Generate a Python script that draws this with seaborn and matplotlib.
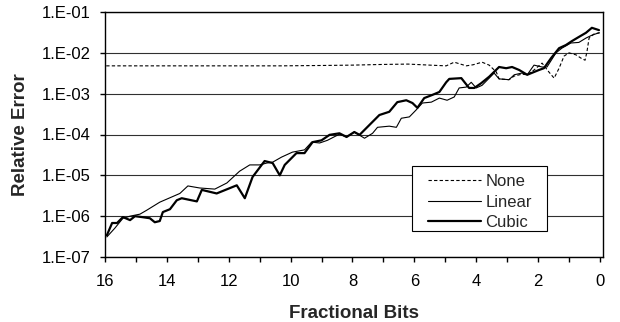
import numpy as np
import pandas as pd
import matplotlib
matplotlib.use("Agg")
import matplotlib.pyplot as plt
import seaborn as sns
from matplotlib.patches import Rectangle
from matplotlib.ticker import FixedLocator, MultipleLocator, FuncFormatter, NullLocator

# ---- data ----
none_bits = [16.0, 12.0, 10.3, 9.0, 8.0, 7.0, 6.2, 5.5, 4.97, 4.71, 4.32, 4.1, 3.81, 3.58,
             3.35, 3.26, 2.94, 2.77, 2.52, 2.35, 2.13, 1.87, 1.65, 1.48, 1.32, 1.16, 1.0,
             0.77, 0.61, 0.48, 0.42, 0.35, 0.19, 0.0]
none_err = [4.8e-3, 4.8e-3, 4.8e-3, 4.9e-3, 5.0e-3, 5.2e-3, 5.3e-3, 5.0e-3, 4.8e-3, 5.9e-3,
            4.8e-3, 5.1e-3, 5.9e-3, 5.0e-3, 3.4e-3, 2.3e-3, 2.2e-3, 2.7e-3, 3.0e-3, 2.9e-3,
            3.8e-3, 5.6e-3, 3.4e-3, 2.4e-3, 4.2e-3, 8.3e-3, 1.0e-2, 8.9e-3, 7.4e-3, 6.6e-3,
            1.05e-2, 2.3e-2, 2.9e-2, 3.1e-2]

linear_bits = [15.94, 15.68, 15.42, 15.19, 14.87, 14.65, 14.23, 13.58, 13.32, 12.94, 12.45,
               12.06, 11.65, 11.32, 11.0, 10.77, 10.58, 10.29, 9.94, 9.55, 9.32, 9.06, 8.81,
               8.42, 8.19, 7.94, 7.61, 7.35, 7.19, 6.81, 6.58, 6.42, 6.16, 5.94, 5.74, 5.45,
               5.19, 4.94, 4.71, 4.55, 4.32, 4.16, 4.0, 3.81, 3.58, 3.42, 3.26, 2.94, 2.77,
               2.52, 2.35, 2.13, 1.87, 1.71, 1.42, 1.23, 0.94, 0.68, 0.45, 0.26, 0.03]
linear_err = [3.1e-7, 5.1e-7, 8.9e-7, 1.0e-6, 1.12e-6, 1.4e-6, 2.2e-6, 3.6e-6, 5.5e-6, 4.9e-6,
              4.6e-6, 6.5e-6, 1.26e-5, 1.8e-5, 1.8e-5, 2.0e-5, 2.1e-5, 2.8e-5, 3.7e-5, 4.2e-5,
              6.5e-5, 6.2e-5, 7.2e-5, 1.02e-4, 8.7e-5, 1.15e-4, 8.1e-5, 1.07e-4, 1.5e-4, 1.6e-4,
              1.5e-4, 2.5e-4, 2.7e-4, 4.0e-4, 5.9e-4, 6.2e-4, 7.8e-4, 6.9e-4, 8.3e-4, 1.38e-3,
              1.45e-3, 1.9e-3, 1.38e-3, 1.6e-3, 2.4e-3, 3.2e-3, 2.3e-3, 2.2e-3, 2.9e-3, 3.2e-3,
              2.9e-3, 5.0e-3, 4.5e-3, 4.5e-3, 1.0e-2, 1.3e-2, 1.74e-2, 1.8e-2, 2.3e-2, 2.7e-2,
              3.1e-2]

cubic_bits = [15.94, 15.77, 15.61, 15.42, 15.19, 15.03, 14.81, 14.55, 14.39, 14.23, 14.13,
              13.9, 13.68, 13.52, 13.03, 12.87, 12.39, 11.74, 11.48, 11.23, 10.84, 10.58,
              10.35, 10.19, 9.81, 9.55, 9.29, 9.0, 8.74, 8.42, 8.19, 7.94, 7.77, 7.55, 7.13,
              6.81, 6.55, 6.26, 6.06, 5.9, 5.68, 5.42, 5.19, 4.97, 4.87, 4.48, 4.23, 4.06,
              3.84, 3.58, 3.26, 3.03, 2.84, 2.61, 2.35, 1.97, 1.81, 1.58, 1.32, 1.1, 0.9,
              0.68, 0.45, 0.26, 0.03]
cubic_err = [3.4e-7, 6.8e-7, 6.8e-7, 9.5e-7, 8.0e-7, 1.0e-6, 9.5e-7, 8.9e-7, 7.1e-7, 7.6e-7,
             1.26e-6, 1.48e-6, 2.45e-6, 2.75e-6, 2.3e-6, 4.4e-6, 3.6e-6, 5.7e-6, 2.75e-6,
             9.1e-6, 2.24e-5, 2.0e-5, 1.0e-5, 1.8e-5, 3.5e-5, 3.5e-5, 6.5e-5, 7.2e-5, 9.8e-5,
             1.07e-4, 8.7e-5, 1.15e-4, 9.8e-5, 1.44e-4, 3.0e-4, 3.6e-4, 6.2e-4, 6.9e-4, 5.9e-4,
             4.5e-4, 7.8e-4, 9.3e-4, 1.1e-3, 1.9e-3, 2.3e-3, 2.4e-3, 1.38e-3, 1.38e-3, 1.8e-3,
             2.6e-3, 4.5e-3, 4.2e-3, 4.5e-3, 3.8e-3, 2.9e-3, 3.8e-3, 4.2e-3, 7.4e-3, 1.3e-2,
             1.55e-2, 1.95e-2, 2.45e-2, 3.1e-2, 4.1e-2, 3.6e-2]

series_names = ["None", "Linear", "Cubic"]
x_tick_values = [16, 14, 12, 10, 8, 6, 4, 2, 0]
y_tick_values = [1e-7, 1e-6, 1e-5, 1e-4, 1e-3, 1e-2, 1e-1]
x_label = "Fractional Bits"
y_label = "Relative Error"

# ---- style ----
sns.set_theme(style="white")
plt.rcParams['font.family'] = ['Liberation Sans', 'DejaVu Sans']

fig = plt.figure(figsize=(6.2, 3.22), dpi=100)
ax = fig.add_axes([105 / 620, 65 / 322, 498 / 620, 245 / 322])

frames = []
for name, b, e in zip(series_names,
                      [none_bits, linear_bits, cubic_bits],
                      [none_err, linear_err, cubic_err]):
    frames.append(pd.DataFrame({"bits": b, "err": e, "series": name}))
df = pd.concat(frames, ignore_index=True)

styles = {
    "None": dict(lw=0.8, linestyle=(0, (3, 2))),
    "Linear": dict(lw=0.8, linestyle="-"),
    "Cubic": dict(lw=1.6, linestyle="-"),
}
for name in series_names:
    sub = df[df["series"] == name]
    sns.lineplot(data=sub, x="bits", y="err", ax=ax, color="black",
                 label=name, **styles[name])

ax.set_yscale("log")
ax.set_ylim(1e-7, 1e-1)
ax.set_xlim(16, -0.1)

ax.yaxis.set_major_locator(FixedLocator(y_tick_values))
ax.yaxis.set_minor_locator(NullLocator())
ax.yaxis.set_major_formatter(FuncFormatter(
    lambda v, p: "1.E-%02d" % int(round(-np.log10(v)))))
ax.xaxis.set_major_locator(FixedLocator(x_tick_values))
ax.xaxis.set_minor_locator(MultipleLocator(1))
ax.xaxis.set_major_formatter(FuncFormatter(lambda v, p: "%d" % round(v)))

ax.yaxis.grid(True, color="#303030", lw=0.8)
ax.xaxis.grid(False)
ax.set_axisbelow(True)

for s in ax.spines.values():
    s.set_color("black")
    s.set_linewidth(1.0)
    s.set_visible(True)

ax.tick_params(axis="both", which="both", direction="out", length=3.6, width=1,
               color="black", labelsize=12, labelcolor="black",
               bottom=True, left=True)
ax.tick_params(axis="y", which="major", pad=7)
ax.tick_params(axis="x", which="major", pad=9)

ax.set_xlabel(x_label, fontsize=13.5, fontweight="bold", labelpad=11)
ax.set_ylabel(y_label, fontsize=13.5, fontweight="bold", labelpad=9)

# legend box (frame drawn as a rectangle so the inner padding matches)
box = Rectangle((0.6165, 0.1061), 0.271, 0.2653, transform=ax.transAxes,
                facecolor="white", edgecolor="black", lw=0.8, zorder=5)
ax.add_patch(box)
leg = ax.legend(loc="upper left", bbox_to_anchor=(0.6486, 0.339), fontsize=12,
                frameon=False, handlelength=3.15, handletextpad=0.3,
                labelspacing=0.34, borderpad=0, borderaxespad=0)
leg.set_zorder(6)

fig.savefig("out.png", dpi=100, facecolor="white")
